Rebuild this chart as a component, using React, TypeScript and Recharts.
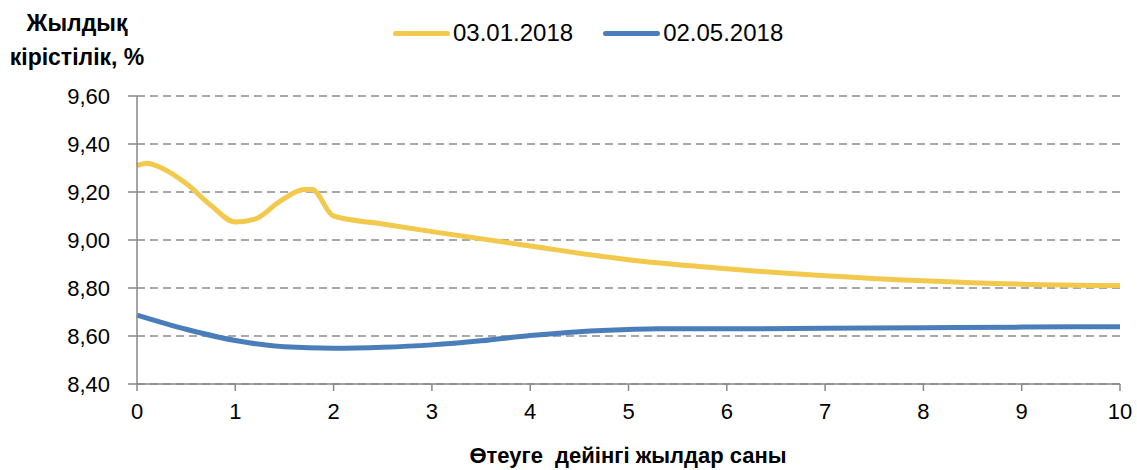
import React from "react";
import { LineChart, Line, XAxis, YAxis, CartesianGrid } from "recharts";

const yellowYears = [0, 0.1, 0.25, 0.5, 0.75, 1.0, 1.2, 1.45, 1.7, 1.78, 2.0, 2.5, 3, 4, 5, 6, 7, 8, 9, 10];
const yellowYields = [9.31, 9.32, 9.3, 9.235, 9.145, 9.075, 9.087, 9.16, 9.21, 9.21, 9.1, 9.067, 9.035, 8.975, 8.918, 8.88, 8.851, 8.83, 8.816, 8.81];

const blueYears = [0, 0.5, 1, 1.5, 2, 2.5, 3, 3.5, 4, 4.5, 5, 5.3, 6, 7, 8, 9, 10];
const blueYields = [8.687, 8.628, 8.581, 8.555, 8.549, 8.553, 8.563, 8.58, 8.602, 8.618, 8.627, 8.63, 8.63, 8.632, 8.634, 8.637, 8.639];

const xTicks = [0, 1, 2, 3, 4, 5, 6, 7, 8, 9, 10];
const yTicks = [8.4, 8.6, 8.8, 9.0, 9.2, 9.4, 9.6];

const seriesNames = ["03.01.2018", "02.05.2018"];
const yTitleLines = ["Жылдық", "кірістілік, %"];
const xTitle = "Өтеуге  дейінгі жылдар саны";

const YELLOW = "#F2C94C";
const BLUE = "#4A7EBB";
const FONT = "'Liberation Sans', Arial, sans-serif";

const yellowData = yellowYears.map((x, i) => ({ x, y: yellowYields[i] }));
const blueData = blueYears.map((x, i) => ({ x, y: blueYields[i] }));

export default function App() {
  return (
    <div style={{ position: "absolute", left: 0, top: 0, width: 1137, height: 470, background: "#fff" }}>
      <LineChart
        width={1137}
        height={470}
        margin={{ top: 96, right: 17, bottom: 56, left: 37 }}
      >
        <CartesianGrid horizontal vertical={false} stroke="#8c8c8c" strokeDasharray="8 5" strokeWidth={1.5} />
        <XAxis
          type="number"
          dataKey="x"
          domain={[0, 10]}
          ticks={xTicks}
          interval={0}
          allowDuplicatedCategory={false}
          height={30}
          stroke="#898989"
          strokeWidth={1.5}
          tickSize={7}
          tickMargin={12}
          tick={{ fill: "#000", fontSize: 22, fontFamily: FONT }}
        />
        <YAxis
          type="number"
          domain={[8.4, 9.6]}
          ticks={yTicks}
          interval={0}
          width={100}
          stroke="#898989"
          strokeWidth={1.5}
          tickSize={9}
          tickMargin={18}
          tickFormatter={(v: number) => v.toFixed(2).replace(".", ",")}
          tick={{ fill: "#000", fontSize: 22, fontFamily: FONT }}
        />
        <Line data={yellowData} dataKey="y" type="monotone" stroke={YELLOW} strokeWidth={5} dot={false} isAnimationActive={false} name={seriesNames[0]} />
        <Line data={blueData} dataKey="y" type="monotone" stroke={BLUE} strokeWidth={5} dot={false} isAnimationActive={false} name={seriesNames[1]} />
        <text x={77} y={31} textAnchor="middle" fontFamily={FONT} fontWeight="bold" fontSize={23} fill="#000">{yTitleLines[0]}</text>
        <text x={77} y={65} textAnchor="middle" fontFamily={FONT} fontWeight="bold" fontSize={23} fill="#000">{yTitleLines[1]}</text>
        <text x={628} y={463} textAnchor="middle" fontFamily={FONT} fontWeight="bold" fontSize={22} fill="#000" xmlSpace="preserve" style={{ whiteSpace: "pre" }}>{xTitle}</text>
      </LineChart>
      <div style={{ position: "absolute", left: 393, top: 19, display: "flex", alignItems: "center", fontFamily: FONT, fontSize: 24, color: "#000", lineHeight: "28px" }}>
        {[YELLOW, BLUE].map((c, i) => (
          <div key={i} style={{ display: "flex", alignItems: "center", marginRight: i === 0 ? 30 : 0 }}>
            <div style={{ width: 57, height: 5, borderRadius: 3, background: c, marginRight: 3 }} />
            <span>{seriesNames[i]}</span>
          </div>
        ))}
      </div>
    </div>
  );
}
